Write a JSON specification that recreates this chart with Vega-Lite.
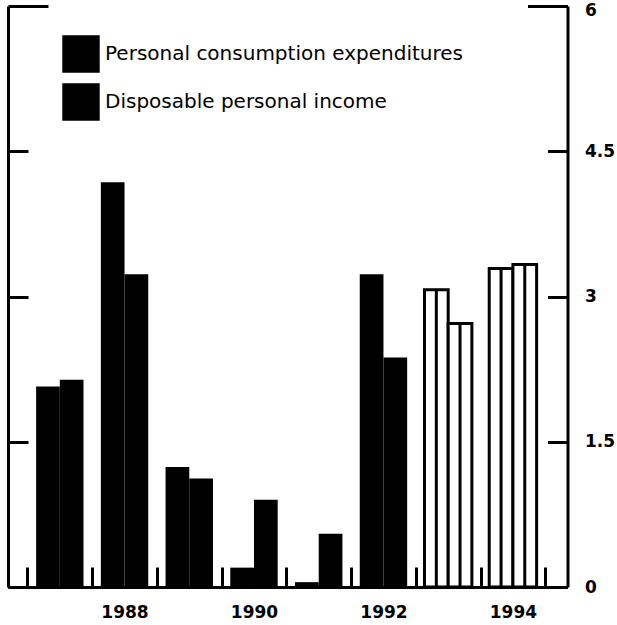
{
  "$schema": "https://vega.github.io/schema/vega-lite/v6.json",
  "width": 559.5,
  "height": 581,
  "autosize": {"type": "none"},
  "padding": {"left": 8, "top": 6, "right": 49.5, "bottom": 38},
  "background": "white",
  "config": {
    "view": {"stroke": null},
    "axis": {
      "grid": false,
      "domainColor": "black",
      "domainWidth": 3,
      "tickColor": "black",
      "tickWidth": 3,
      "labelFont": "DejaVu Sans",
      "labelFontSize": 17,
      "labelFontWeight": "bold",
      "labelColor": "black",
      "title": null
    }
  },
  "data": {
    "values": [
      {"year": 1987, "series": "Personal consumption expenditures", "value": 2.07},
      {"year": 1987, "series": "Disposable personal income", "value": 2.14},
      {"year": 1988, "series": "Personal consumption expenditures", "value": 4.18},
      {"year": 1988, "series": "Disposable personal income", "value": 3.23},
      {"year": 1989, "series": "Personal consumption expenditures", "value": 1.24},
      {"year": 1989, "series": "Disposable personal income", "value": 1.12},
      {"year": 1990, "series": "Personal consumption expenditures", "value": 0.2},
      {"year": 1990, "series": "Disposable personal income", "value": 0.9},
      {"year": 1991, "series": "Personal consumption expenditures", "value": 0.05},
      {"year": 1991, "series": "Disposable personal income", "value": 0.55},
      {"year": 1992, "series": "Personal consumption expenditures", "value": 3.23},
      {"year": 1992, "series": "Disposable personal income", "value": 2.37},
      {"year": 1993, "series": "Personal consumption expenditures", "value": 3.07},
      {"year": 1993, "series": "Disposable personal income", "value": 2.72},
      {"year": 1994, "series": "Personal consumption expenditures", "value": 3.29},
      {"year": 1994, "series": "Disposable personal income", "value": 3.33}
    ]
  },
  "layer": [
    {
      "transform": [{"filter": "datum.series == 'Personal consumption expenditures'"}],
      "mark": {"type": "bar", "width": 23.7, "xOffset": -11.85, "stroke": "black"},
      "encoding": {
        "x": {
          "field": "year", "type": "quantitative",
          "scale": {"domain": [1986.277, 1994.766], "nice": false, "zero": false},
          "axis": {
            "orient": "bottom",
            "values": [1986.5, 1987.5, 1988, 1988.5, 1989.5, 1990, 1990.5, 1991.5, 1992, 1992.5, 1993.5, 1994, 1994.5],
            "tickSize": -20,
            "tickOpacity": {"condition": {"test": "datum.value % 1 == 0", "value": 0}, "value": 1},
            "labelExpr": "datum.value % 2 == 0 ? datum.value : ''",
            "labelPadding": 37,
            "labelOverlap": false,
            "labelFlush": false
          }
        },
        "y": {
          "field": "value", "type": "quantitative",
          "scale": {"domain": [0, 6], "nice": false},
          "axis": {
            "orient": "right",
            "values": [0, 1.5, 3, 4.5, 6],
            "labelExpr": "'' + datum.value",
            "tickSize": {"condition": {"test": "datum.value == 6", "value": -40}, "value": -20},
            "labelPadding": {"condition": {"test": "datum.value == 6", "value": 57}, "value": 37},
            "labelOffset": {"condition": {"test": "datum.value == 6", "value": 4}, "value": 0},
            "labelAlign": "left",
            "labelBaseline": "middle"
          }
        },
        "fill": {
          "condition": {"test": "datum.year >= 1993", "value": "white"},
          "field": "series", "type": "nominal",
          "scale": {"domain": ["Personal consumption expenditures", "Disposable personal income"], "range": ["black", "black"]},
          "legend": {
            "orient": "none", "legendX": 54, "legendY": 29, "title": null,
            "symbolType": "square", "symbolSize": 1400, "symbolStrokeWidth": 0,
            "labelFont": "DejaVu Sans", "labelFontSize": 20, "labelColor": "black",
            "labelOffset": 5, "rowPadding": 10, "padding": 0, "labelLimit": 0
          }
        },
        "strokeWidth": {"condition": {"test": "datum.year >= 1993", "value": 3}, "value": 0}
      }
    },
    {
      "transform": [{"filter": "datum.series == 'Disposable personal income'"}],
      "mark": {"type": "bar", "width": 23.7, "xOffset": 11.85, "stroke": "black"},
      "encoding": {
        "x": {"field": "year", "type": "quantitative", "scale": {"domain": [1986.277, 1994.766], "nice": false, "zero": false}},
        "y": {
          "field": "value", "type": "quantitative",
          "scale": {"domain": [0, 6], "nice": false},
          "axis": {
            "orient": "left",
            "values": [0, 1.5, 3, 4.5, 6],
            "labels": false,
            "tickSize": {"condition": {"test": "datum.value == 6", "value": -40}, "value": -20}
          }
        },
        "fill": {
          "condition": {"test": "datum.year >= 1993", "value": "white"},
          "field": "series", "type": "nominal",
          "scale": {"domain": ["Personal consumption expenditures", "Disposable personal income"], "range": ["black", "black"]}
        },
        "strokeWidth": {"condition": {"test": "datum.year >= 1993", "value": 3}, "value": 0}
      }
    },
    {
      "transform": [{"filter": "datum.series == 'Personal consumption expenditures' && datum.year >= 1993"}],
      "mark": {"type": "rule", "xOffset": -11.85, "strokeWidth": 3, "color": "black"},
      "encoding": {
        "x": {"field": "year", "type": "quantitative", "scale": {"domain": [1986.277, 1994.766], "nice": false, "zero": false}},
        "y": {"field": "value", "type": "quantitative", "scale": {"domain": [0, 6], "nice": false}, "axis": null},
        "y2": {"datum": 0}
      }
    },
    {
      "transform": [{"filter": "datum.series == 'Disposable personal income' && datum.year >= 1993"}],
      "mark": {"type": "rule", "xOffset": 11.85, "strokeWidth": 3, "color": "black"},
      "encoding": {
        "x": {"field": "year", "type": "quantitative", "scale": {"domain": [1986.277, 1994.766], "nice": false, "zero": false}},
        "y": {"field": "value", "type": "quantitative", "scale": {"domain": [0, 6], "nice": false}, "axis": null},
        "y2": {"datum": 0}
      }
    }
  ],
  "resolve": {"scale": {"y": "independent"}}
}
